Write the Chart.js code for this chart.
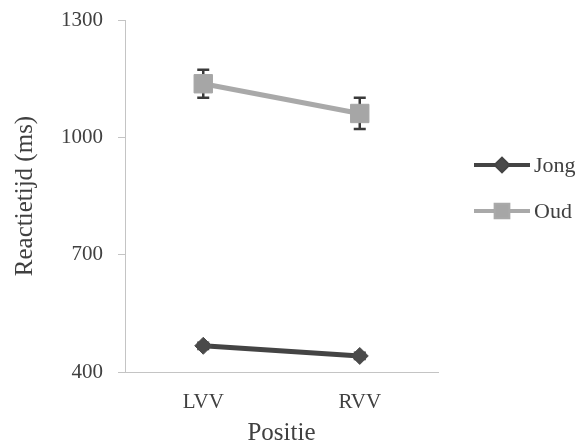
<!DOCTYPE html>
<html>
<head>
<meta charset="utf-8">
<script src="https://cdn.jsdelivr.net/npm/chart.js@4"></script>
<style>
  html, body { margin: 0; padding: 0; background: #fff; }
  #wrap { width: 581px; height: 445px; }
</style>
</head>
<body>
<div id="wrap"><canvas id="myChart"></canvas></div>
<script>
// data
var categories = ['LVV', 'RVV'];
var jong = [467, 441];
var jongErr = [8, 8];
var oud = [1137, 1061];
var oudErr = [36, 40];
var yTicks = [400, 700, 1000, 1300];

var textColor = '#404040';
var serif = "'Liberation Serif', 'Times New Roman', serif";

// error bars, drawn under the markers
var errorBars = {
  id: 'errorBars',
  beforeDatasetsDraw: function (chart) {
    var ctx = chart.ctx;
    var yScale = chart.scales.y;
    chart.data.datasets.forEach(function (ds, i) {
      var meta = chart.getDatasetMeta(i);
      ctx.save();
      ctx.strokeStyle = '#3a3a3a';
      ctx.lineWidth = 2.5;
      meta.data.forEach(function (pt, j) {
        var v = ds.data[j], e = ds.errors[j];
        var top = yScale.getPixelForValue(v + e);
        var bot = yScale.getPixelForValue(v - e);
        ctx.beginPath();
        ctx.moveTo(pt.x, top); ctx.lineTo(pt.x, bot);
        ctx.moveTo(pt.x - 6, top); ctx.lineTo(pt.x + 6, top);
        ctx.moveTo(pt.x - 6, bot); ctx.lineTo(pt.x + 6, bot);
        ctx.stroke();
      });
      ctx.restore();
    });
  }
};

// legend: line sample with marker, like the spreadsheet legend
var lineLegend = {
  id: 'lineLegend',
  afterDraw: function (chart) {
    var ctx = chart.ctx;
    var x0 = 474, x1 = 530, ys = [165, 211];
    chart.data.datasets.forEach(function (ds, i) {
      var y = ys[i];
      ctx.save();
      ctx.strokeStyle = ds.borderColor;
      ctx.lineWidth = 4;
      ctx.beginPath();
      ctx.moveTo(x0, y); ctx.lineTo(x1, y);
      ctx.stroke();
      Chart.helpers.drawPoint(ctx, {
        pointStyle: ds.pointStyle,
        radius: ds.legendRadius,
        borderWidth: 1
      }, (x0 + x1) / 2, y);
      ctx.fillStyle = ds.pointBackgroundColor;
      ctx.strokeStyle = ds.pointBorderColor;
      ctx.fill();
      ctx.fillStyle = textColor;
      ctx.font = '22px ' + serif;
      ctx.textBaseline = 'middle';
      ctx.textAlign = 'left';
      ctx.fillText(ds.label, x1 + 4, y + 1);
      ctx.restore();
    });
  }
};

var ctx = document.getElementById('myChart').getContext('2d');
var myChart = new Chart(ctx, {
  type: 'line',
  data: {
    labels: categories,
    datasets: [{
      label: 'Jong',
      data: jong,
      errors: jongErr,
      borderColor: '#444444',
      borderWidth: 5,
      pointStyle: 'rectRot',
      pointRadius: 8.5,
      legendRadius: 6,
      pointBackgroundColor: '#4a4a4a',
      pointBorderColor: '#4a4a4a',
      pointBorderWidth: 1
    }, {
      label: 'Oud',
      data: oud,
      errors: oudErr,
      borderColor: '#a9a9a9',
      borderWidth: 5,
      pointStyle: 'rect',
      pointRadius: 13,
      legendRadius: 9,
      pointBackgroundColor: '#a6a6a6',
      pointBorderColor: '#a6a6a6',
      pointBorderWidth: 1
    }]
  },
  options: {
    responsive: true,
    maintainAspectRatio: false,
    animation: false,
    layout: { padding: { left: 0, right: 143, top: 20, bottom: 0 } },
    plugins: {
      legend: { display: false },
      tooltip: { enabled: false }
    },
    scales: {
      x: {
        offset: true,
        grid: { display: false },
        border: { display: true, color: '#c4c4c4', width: 1 },
        ticks: { color: textColor, font: { family: serif, size: 21 }, padding: 10 },
        title: {
          display: true, text: 'Positie', color: textColor,
          font: { family: serif, size: 25 }, padding: { top: 0, bottom: -3 }
        },
        afterFit: function (s) { s.height = 73; }
      },
      y: {
        min: 400, max: 1300,
        afterBuildTicks: function (s) {
          s.ticks = yTicks.map(function (v) { return { value: v }; });
        },
        grid: { drawOnChartArea: false, drawTicks: true, tickLength: 7, color: '#c4c4c4' },
        border: { display: true, color: '#c4c4c4', width: 1 },
        ticks: {
          color: textColor, font: { family: serif, size: 21 }, padding: 15,
          callback: function (v) { return String(v); }
        },
        title: {
          display: true, text: 'Reactietijd (ms)', color: textColor,
          font: { family: serif, size: 25 }, padding: { top: 10, bottom: 0 }
        },
        afterFit: function (s) {
          s.width = 125;
          s.paddingTop = 0;
          s.paddingBottom = 0;
        }
      }
    }
  },
  plugins: [errorBars, lineLegend]
});
</script>
</body>
</html>
